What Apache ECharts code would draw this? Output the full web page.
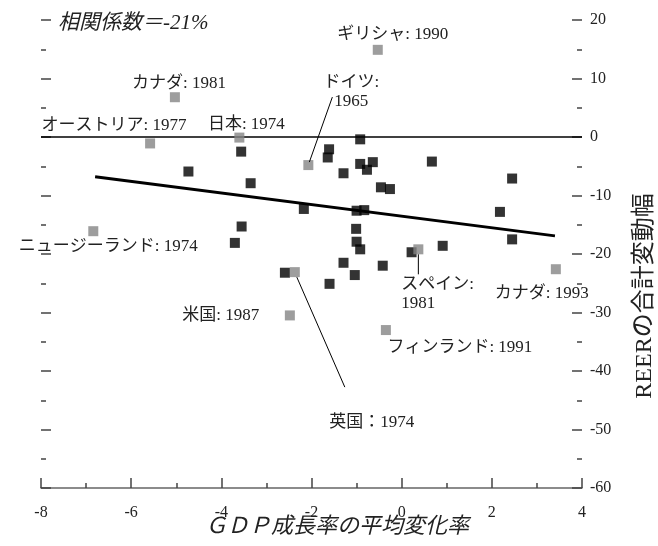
<!DOCTYPE html>
<html>
<head>
<meta charset="utf-8">
<script src="https://cdn.jsdelivr.net/npm/echarts@6/dist/echarts.min.js"></script>
<style>
  html, body { margin: 0; padding: 0; background: #fff; }
  #chart { width: 658px; height: 546px; }
</style>
</head>
<body>
<div id="chart"></div>
<script>
// Country episodes: GDP growth change (x) vs cumulative REER move (y)
const blackPoints = [
  [-3.56, -2.5], [-0.92, -0.4], [-1.61, -2.1], [-1.64, -3.5], [-0.92, -4.6],
  [-0.64, -4.3], [-0.77, -5.6], [-1.29, -6.2], [-3.35, -7.9], [-0.46, -8.6],
  [-0.26, -8.9], [-2.17, -12.3], [-1.00, -12.6], [-0.83, -12.5], [-3.55, -15.3],
  [-1.01, -15.7], [-3.70, -18.1], [-1.00, -17.9], [-0.92, -19.2], [-1.29, -21.5],
  [-2.59, -23.2], [-0.42, -22.0], [-1.04, -23.6], [-1.60, -25.1], [0.22, -19.7],
  [0.67, -4.2], [2.45, -7.1], [2.18, -12.8], [2.45, -17.5], [0.91, -18.6],
  [-4.73, -5.9]
];

// Highlighted episodes
const countries = ['ギリシャ', 'カナダ', 'オーストリア', '日本', 'ドイツ', 'ニュージーランド',
                   '英国', '米国', 'スペイン', 'カナダ', 'フィンランド'];
const years = [1990, 1981, 1977, 1974, 1965, 1974, 1974, 1987, 1981, 1993, 1991];
const grayX = [-0.53, -5.03, -5.58, -3.60, -2.07, -6.84, -2.37, -2.48, 0.37, 3.42, -0.35];
const grayY = [14.9, 6.8, -1.1, -0.1, -4.8, -16.1, -23.1, -30.5, -19.2, -22.6, -33.0];

// Fitted trend line end points
const trendLine = [[-6.8, -6.8], [3.4, -16.9]];
const zeroLine = [[-8, 0], [4, 0]];

const xTicks = { min: -8, max: 4, interval: 2 };
const yTicks = { min: -60, max: 20, interval: 10 };

const correlationText = '相関係数＝-21%';
const xTitle = 'ＧＤＰ成長率の平均変化率';
const yTitle = 'REERの合計変動幅';

// Label placement for each highlighted point (pixel offsets from the marker)
const labelLayout = [
  { sep: ': ', dx: 15, dy: -15, align: 'center' },
  { sep: ': ', dx: 4, dy: -14, align: 'center' },
  { sep: ': ', dx: -36, dy: -18, align: 'center' },
  { sep: ': ', dx: 7, dy: -13, align: 'center' },
  { sep: ':\n', dx: 43, dy: -73, align: 'center', leader: [1, -3, 24, -68] },
  { sep: ': ', dx: 15, dy: 15, align: 'center' },
  { sep: '：', dx: 77, dy: 150, align: 'center', leader: [2, 5, 50, 115] },
  { sep: ': ', dx: -69, dy: 0, align: 'center' },
  { sep: ':\n', dx: -17, dy: 45, align: 'left', leader: [0, 5, 0, 25] },
  { sep: ': ', dx: -14, dy: 24, align: 'center' },
  { sep: ': ', dx: 74, dy: 17, align: 'center' }
];

const serif = "'Liberation Serif', 'Noto Sans CJK JP', serif";
const axisColor = '#444';

const chart = echarts.init(document.getElementById('chart'), null, { renderer: 'canvas' });

const tickStyle = (len) => ({ show: true, inside: true, length: len, lineStyle: { color: axisColor, width: 1.5 } });
const minorStyle = { show: true, splitNumber: 2, length: 5, lineStyle: { color: axisColor, width: 1.5 } };

const option = {
  animation: false,
  backgroundColor: '#fff',
  grid: { left: 41, right: 76, top: 20, bottom: 58 },
  xAxis: {
    type: 'value', min: xTicks.min, max: xTicks.max, interval: xTicks.interval,
    axisLine: { show: true, onZero: false, lineStyle: { color: '#666', width: 1.5 } },
    axisTick: tickStyle(10),
    minorTick: minorStyle,
    splitLine: { show: false },
    axisLabel: { fontFamily: serif, fontSize: 16, color: '#222', margin: 17 }
  },
  yAxis: [
    {
      type: 'value', position: 'right', min: yTicks.min, max: yTicks.max, interval: yTicks.interval,
      axisLine: { show: false, onZero: false },
      axisTick: tickStyle(10),
      minorTick: minorStyle,
      splitLine: { show: false },
      axisLabel: { fontFamily: serif, fontSize: 16, color: '#222', margin: 8 }
    },
    {
      type: 'value', position: 'left', min: yTicks.min, max: yTicks.max, interval: yTicks.interval,
      axisLine: { show: false, onZero: false },
      axisTick: tickStyle(10),
      minorTick: minorStyle,
      splitLine: { show: false },
      axisLabel: { show: false }
    }
  ],
  series: [
    {
      type: 'line', data: zeroLine, symbol: 'none', silent: true,
      lineStyle: { color: '#000', width: 1.5 }, z: 2
    },
    {
      type: 'line', data: trendLine, symbol: 'none', silent: true,
      lineStyle: { color: '#000', width: 3 }, z: 3
    },
    {
      type: 'scatter', data: blackPoints, symbol: 'rect', symbolSize: 10,
      itemStyle: { color: '#000' }, z: 4
    },
    {
      type: 'scatter', data: grayX.map((x, i) => [x, grayY[i]]), symbol: 'rect', symbolSize: 10,
      itemStyle: { color: '#858585' }, z: 5
    }
  ]
};

chart.setOption(option);

// Point labels, leader lines and titles
const graphics = [];
countries.forEach((name, i) => {
  const lay = labelLayout[i];
  const p = chart.convertToPixel({ gridIndex: 0 }, [grayX[i], grayY[i]]);
  graphics.push({
    type: 'text', z: 10,
    style: {
      text: name + lay.sep + years[i],
      x: p[0] + lay.dx, y: p[1] + lay.dy,
      align: lay.align, verticalAlign: 'middle',
      fontFamily: serif, fontSize: 17, lineHeight: 19, fill: '#222'
    }
  });
  if (lay.leader) {
    const L = lay.leader;
    graphics.push({
      type: 'line', z: 9,
      shape: { x1: p[0] + L[0], y1: p[1] + L[1], x2: p[0] + L[2], y2: p[1] + L[3] },
      style: { stroke: '#000', lineWidth: 1 }
    });
  }
});

graphics.push({
  type: 'text', z: 10,
  style: {
    text: correlationText, x: 58, y: 23, align: 'left', verticalAlign: 'middle',
    fontFamily: serif, fontSize: 21, fontStyle: 'italic', fill: '#222'
  }
});
graphics.push({
  type: 'text', z: 10,
  style: {
    text: xTitle, x: 337, y: 527, align: 'center', verticalAlign: 'middle',
    fontFamily: serif, fontSize: 22, fontStyle: 'italic', fill: '#222'
  }
});
graphics.push({
  type: 'text', z: 10, x: 645, y: 296, rotation: Math.PI / 2,
  style: {
    text: yTitle, x: 0, y: 0, align: 'center', verticalAlign: 'middle',
    fontFamily: serif, fontSize: 24, fill: '#222'
  }
});

chart.setOption({ graphic: graphics });
</script>
</body>
</html>
